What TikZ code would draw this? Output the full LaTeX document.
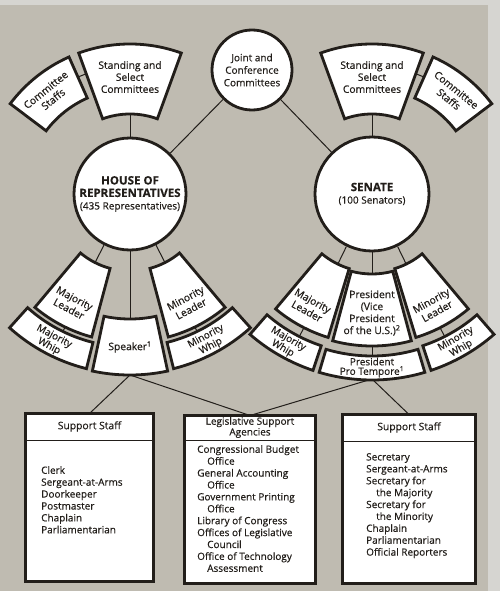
\documentclass[tikz,border=0pt]{standalone}
\usepackage{fontspec}
\setmainfont{Open Sans}[FakeBold=0.4]
\definecolor{bg}{HTML}{BFBBB1}
\definecolor{bglight}{HTML}{D6D5D1}
\definecolor{ink}{HTML}{221E1A}
\newcommand{\ringsect}[5]{%
  \path[sect, shift={#1}] (#2:#4pt) arc[start angle=#2, end angle=#3, radius=#4pt]
    -- (#3:#5pt) arc[start angle=#3, end angle=#2, radius=#5pt] -- cycle;}
\newcommand{\bigttl}[1]{{\fontsize{11.5}{13}\selectfont\bfseries #1}}
\begin{document}
\begin{tikzpicture}[x=1pt,y=1pt,
  sect/.style={draw=ink, line width=2.8pt, fill=white, line join=miter},
  circ/.style={circle, draw=ink, line width=2.8pt, fill=white, inner sep=0pt, align=center, text=ink, font=\fontsize{10}{12.5}\selectfont},
  conn/.style={draw=ink, line width=1pt},
  lbl/.style={text=ink, align=center, inner sep=0pt, font=\fontsize{10.3}{12}\selectfont},
  tight/.style={text=ink, align=center, inner sep=0pt, font=\fontsize{10}{9.8}\selectfont},
  head/.style={text=ink, align=center, inner sep=0pt, font=\fontsize{10}{9.5}\selectfont},
  listtxt/.style={text=ink, align=left, inner sep=0pt, font=\fontsize{10}{11.9}\selectfont},
  box/.style={draw=ink, line width=3.5pt, fill=white, inner sep=0pt, outer sep=0pt},
  divider/.style={draw=ink, line width=1pt},
]
\useasboundingbox (0,0) rectangle (500,-591);
\fill[bg] (0,0) rectangle (500,-591);
\fill[bglight] (488,0) rectangle (500,-591);
\fill[bglight] (0,0) rectangle (500,-5);

\coordinate (H) at (130,-194);
\coordinate (S) at (372,-194);

% circles
\node[circ, minimum size=112pt] (House) at (H) {\bigttl{HOUSE OF}\\\bigttl{REPRESENTATIVES}\\(435 Representatives)};
\node[circ, minimum size=114pt] (Senate) at (S) {\bigttl{SENATE}\\(100 Senators)};
\node[circ, minimum size=80pt] (Joint) at (252,-70) {Joint and\\Conference\\Committees};

% boxes
\node[box, minimum width=128pt, minimum height=168pt] (HSS) at (89.5,-497.5) {};
\node[box, minimum width=131pt, minimum height=168pt] (LSA) at (250,-499.5) {};
\node[box, minimum width=133pt, minimum height=169pt] (SSS) at (409,-499) {};
\draw[divider] ([yshift=-26.5pt]HSS.north west) -- ([yshift=-26.5pt]HSS.north east);
\draw[divider] ([yshift=-24.5pt]LSA.north west) -- ([yshift=-24.5pt]LSA.north east);
\draw[divider] ([yshift=-26.5pt]SSS.north west) -- ([yshift=-26.5pt]SSS.north east);
\node[lbl] (hssHead) at ([yshift=-13pt]HSS.north) {Support Staff};
\node[head] (lsaHead) at ([yshift=-12pt]LSA.north) {Legislative Support\\Agencies};
\node[lbl] (sssHead) at ([yshift=-13pt]SSS.north) {Support Staff};
\node[listtxt, anchor=north west] (hssList) at (41,-466) {Clerk\\Sergeant-at-Arms\\Doorkeeper\\Postmaster\\Chaplain\\Parliamentarian};
\node[listtxt, anchor=north west] (lsaList) at (197,-445) {Congressional Budget\\\hspace*{10pt}Office\\General Accounting\\\hspace*{10pt}Office\\Government Printing\\\hspace*{10pt}Office\\Library of Congress\\Offices of Legislative\\\hspace*{10pt}Council\\Office of Technology\\\hspace*{10pt}Assessment};
\node[listtxt, anchor=north west] (sssList) at (366,-453) {Secretary\\Sergeant-at-Arms\\Secretary for\\\hspace*{10pt}the Majority\\Secretary for\\\hspace*{10pt}the Minority\\Chaplain\\Parliamentarian\\Official Reporters};

% connector end points
\path (H) ++(90:80pt) coordinate (hStIn);
\path (H) ++(110:128pt) coordinate (hStL);
\path (H) ++(114:128pt) coordinate (hCsR);
\path (H) ++(243:77pt) coordinate (hMLin);
\path (H) ++(244:148pt) coordinate (hMLout);
\path (H) ++(244:153pt) coordinate (hMWin);
\path (H) ++(270:125pt) coordinate (hSpIn);
\path (H) ++(270:181pt) coordinate (hSpB);
\path (H) ++(297:77pt) coordinate (hNLin);
\path (H) ++(296:148pt) coordinate (hNLout);
\path (H) ++(296:153pt) coordinate (hNWin);

\path (S) ++(90:80pt) coordinate (sStIn);
\path (S) ++(70:128pt) coordinate (sStR);
\path (S) ++(66:128pt) coordinate (sCsL);
\path (S) ++(244:78pt) coordinate (sMLin);
\path (S) ++(243:150pt) coordinate (sMLout);
\path (S) ++(243:160pt) coordinate (sMWin);
\path (S) ++(270:80pt) coordinate (sPrIn);
\path (S) ++(270:152pt) coordinate (sPrOut);
\path (S) ++(270:162pt) coordinate (sPTin);
\path (S) ++(270:185pt) coordinate (sPTB);
\path (S) ++(296:78pt) coordinate (sNLin);
\path (S) ++(297:150pt) coordinate (sNLout);
\path (S) ++(297:160pt) coordinate (sNWin);

% connectors
\draw[conn] (Joint) -- (House);
\draw[conn] (Joint) -- (Senate);
\draw[conn] (House) -- (hStIn);
\draw[conn] (hStL) -- (hCsR);
\draw[conn] (House) -- (hMLin);
\draw[conn] (hMLout) -- (hMWin);
\draw[conn] (House) -- (hSpIn);
\draw[conn] (House) -- (hNLin);
\draw[conn] (hNLout) -- (hNWin);
\draw[conn] (Senate) -- (sStIn);
\draw[conn] (sStR) -- (sCsL);
\draw[conn] (Senate) -- (sMLin);
\draw[conn] (sMLout) -- (sMWin);
\draw[conn] (Senate) -- (sPrIn);
\draw[conn] (sPrOut) -- (sPTin);
\draw[conn] (Senate) -- (sNLin);
\draw[conn] (sNLout) -- (sNWin);
\draw[conn] (hSpB) -- (HSS.north);
\draw[conn] (hSpB) -- (LSA.north);
\draw[conn] (sPTB) -- (LSA.north);
\draw[conn] (sPTB) -- (SSS.north);

% sectors: House
\ringsect{(H)}{70}{110}{80}{150}
\ringsect{(H)}{114}{143}{105}{150}
\ringsect{(H)}{230}{255}{77}{148}
\ringsect{(H)}{228}{256}{153}{180}
\ringsect{(H)}{258}{282}{125}{181}
\ringsect{(H)}{285}{310}{77}{148}
\ringsect{(H)}{284}{312}{153}{180}
% sectors: Senate
\ringsect{(S)}{70}{110}{80}{150}
\ringsect{(S)}{37}{66}{105}{150}
\ringsect{(S)}{230}{253}{78}{150}
\ringsect{(S)}{229}{251.5}{160}{186}
\ringsect{(S)}{255}{285}{80}{152}
\ringsect{(S)}{253.5}{286.5}{162}{186}
\ringsect{(S)}{287}{310}{78}{150}
\ringsect{(S)}{288.5}{311}{160}{186}

% labels: House
\path (H) ++(90:117pt) node[lbl] (hStT) {Standing and\\Select\\Committees};
\path (H) ++(129:128pt) node[lbl, rotate=39] (hCsT) {Committee\\Staffs};
\path (H) ++(242:124pt) node[lbl, rotate=-28] (hMLT) {Majority\\Leader};
\path (H) ++(242:167pt) node[tight, rotate=-28] (hMWT) {Majority\\Whip};
\path (H) ++(270:153pt) node[lbl] (hSpT) {Speaker\textsuperscript{1}};
\path (H) ++(298:124pt) node[lbl, rotate=28] (hNLT) {Minority\\Leader};
\path (H) ++(298:167pt) node[tight, rotate=28] (hNWT) {Minority\\Whip};
% labels: Senate
\path (S) ++(90:117pt) node[lbl] (sStT) {Standing and\\Select\\Committees};
\path (S) ++(51:128pt) node[lbl, rotate=-39] (sCsT) {Committee\\Staffs};
\path (S) ++(241:128pt) node[lbl, rotate=-29] (sMLT) {Majority\\Leader};
\path (S) ++(240:173pt) node[tight, rotate=-30] (sMWT) {Majority\\Whip};
\path (S) ++(270:119pt) node[lbl] (sPrT) {President\\(Vice\\President\\of the U.S.)\textsuperscript{2}};
\path (S) ++(270:173.5pt) node[head] (sPTT) {President\\Pro Tempore\textsuperscript{1}};
\path (S) ++(299:128pt) node[lbl, rotate=29] (sNLT) {Minority\\Leader};
\path (S) ++(300:173pt) node[tight, rotate=30] (sNWT) {Minority\\Whip};
\end{tikzpicture}
\end{document}
